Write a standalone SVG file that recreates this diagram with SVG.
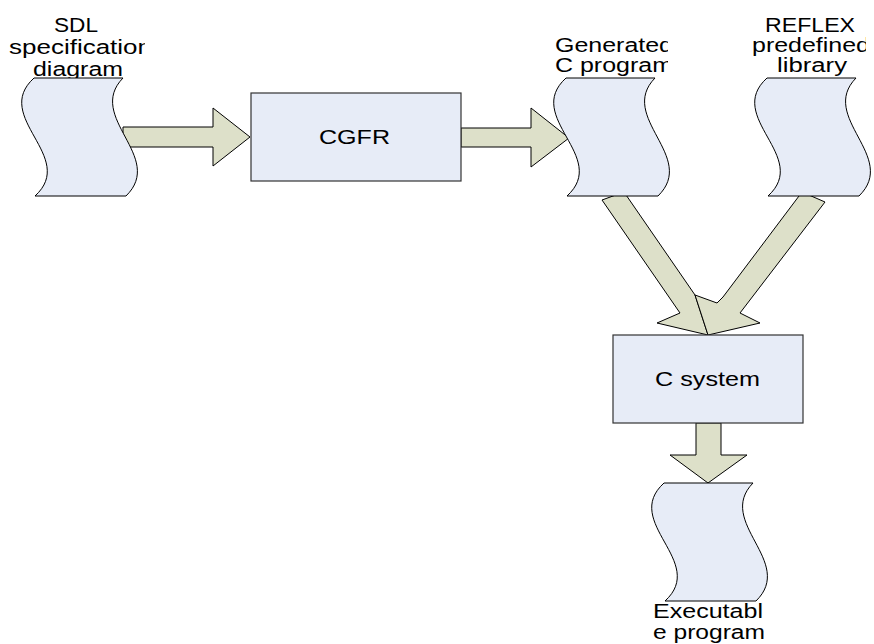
<svg xmlns="http://www.w3.org/2000/svg" xmlns:xlink="http://www.w3.org/1999/xlink" width="874" height="644" viewBox="0 0 874 644">
<style>
.shape{fill:#e7ecf7;stroke:#000;stroke-width:1}
.box{fill:#e7ecf7;stroke:#333;stroke-width:1.2}
.arrow{fill:#dde0c9;stroke:#000;stroke-width:1;stroke-linejoin:miter}
.lbl{font-family:"Liberation Sans",Arial,sans-serif;font-size:20px;fill:#000}
</style>
<defs>
<path id="tape" d="M0,0 H89 C51,39 132,79 92,118 H1 C44,79 -43,39 0,0 Z"/>
<clipPath id="clipSDL"><rect x="0" y="0" width="145" height="78"/></clipPath>
<clipPath id="clipGen"><rect x="540" y="28" width="128" height="50"/></clipPath>
<clipPath id="clipRef"><rect x="740" y="0" width="126" height="78"/></clipPath>
</defs>
<g id="connectors">
<polygon class="arrow" points="123,127 213,127 213,108 250,137 213,166 213,147 123,147"/>
<polygon class="arrow" points="461,128 531,128 531,108 569,138 531,167 531,147 461,147"/>
<polygon class="arrow" points="602,200 624,192 695,295 708,335 657,323 680,313"/>
<polygon class="arrow" points="802,192 825,202 740,313 760,323 708,335 695,295 717,303 723,297"/>
<polygon class="arrow" points="696,423 721,423 721,455 747,455 708,483 670,455 696,455"/>
</g>
<g id="sdl">
<use xlink:href="#tape" href="#tape" class="shape" x="34" y="78"/>
<g clip-path="url(#clipSDL)">
<text class="lbl" x="54" y="32" textLength="44" lengthAdjust="spacingAndGlyphs">SDL</text>
<text class="lbl" x="9" y="54" textLength="143" lengthAdjust="spacingAndGlyphs">specification</text>
<text class="lbl" x="33" y="76" textLength="90" lengthAdjust="spacingAndGlyphs">diagram</text>
</g>
</g>
<g id="cgfr">
<rect class="box" x="251" y="93" width="210" height="88"/>
<text class="lbl" x="319" y="144" style="font-size:21px" textLength="71" lengthAdjust="spacingAndGlyphs">CGFR</text>
</g>
<g id="generated">
<use xlink:href="#tape" href="#tape" class="shape" x="566" y="78"/>
<g clip-path="url(#clipGen)">
<text class="lbl" x="555" y="52" textLength="118" lengthAdjust="spacingAndGlyphs">Generated</text>
<text class="lbl" x="555" y="72" textLength="118" lengthAdjust="spacingAndGlyphs">C program</text>
</g>
</g>
<g id="reflex">
<use xlink:href="#tape" href="#tape" class="shape" x="767" y="78"/>
<g clip-path="url(#clipRef)">
<text class="lbl" x="765" y="32" textLength="90" lengthAdjust="spacingAndGlyphs">REFLEX</text>
<text class="lbl" x="752" y="52" textLength="118" lengthAdjust="spacingAndGlyphs">predefined</text>
<text class="lbl" x="777" y="72" textLength="70" lengthAdjust="spacingAndGlyphs">library</text>
</g>
</g>
<g id="csystem">
<rect class="box" x="613" y="335" width="190" height="88"/>
<text class="lbl" x="655" y="386" textLength="105" lengthAdjust="spacingAndGlyphs">C system</text>
</g>
<g id="executable">
<use xlink:href="#tape" href="#tape" class="shape" x="664" y="483"/>
<text class="lbl" x="653" y="618" textLength="110" lengthAdjust="spacingAndGlyphs">Executabl</text>
<text class="lbl" x="653" y="639" textLength="112" lengthAdjust="spacingAndGlyphs">e program</text>
</g>
</svg>
